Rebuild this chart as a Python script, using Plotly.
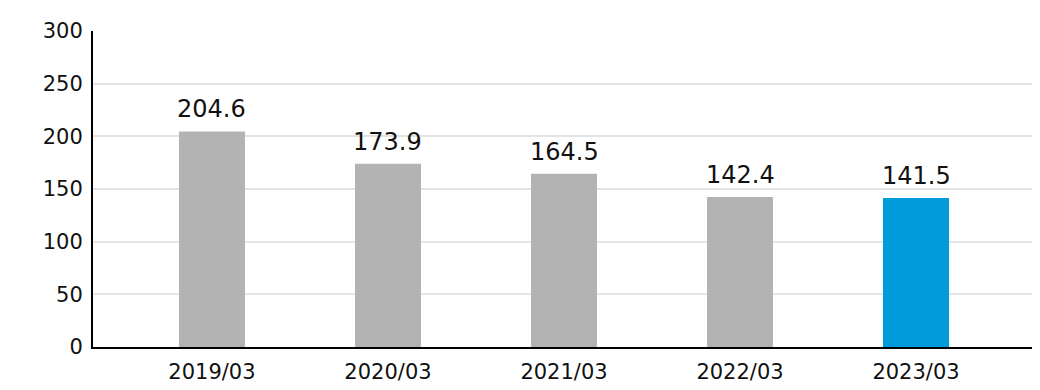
import plotly.graph_objects as go

categories = ["2019/03", "2020/03", "2021/03", "2022/03", "2023/03"]
values = [204.6, 173.9, 164.5, 142.4, 141.5]
colors = ["#b3b3b3", "#b3b3b3", "#b3b3b3", "#b3b3b3", "#009bdb"]
y_ticks = [0, 50, 100, 150, 200, 250, 300]

FONT = "DejaVu Sans"

xs = list(range(len(categories)))
fig = go.Figure(go.Bar(
    x=xs,
    y=values,
    marker=dict(color=colors, line=dict(width=0)),
    width=0.375,
    hoverinfo="x+y",
))

for x, v in zip(xs, values):
    fig.add_annotation(
        x=x, y=v, text=f"{v:.1f}", showarrow=False,
        yanchor="bottom", yshift=6,
        font=dict(size=24, color="#111111", family=FONT),
    )

fig.update_layout(
    width=1032, height=382,
    margin=dict(l=85, r=8, t=23, b=43),
    paper_bgcolor="white", plot_bgcolor="white",
    showlegend=False,
    font=dict(family=FONT, color="#111111"),
    xaxis=dict(
        tickmode="array", tickvals=xs, ticktext=categories,
        range=[-0.676, 4.659],
        showgrid=False, showline=True, linecolor="black", linewidth=2,
        ticks="", tickfont=dict(size=21, family=FONT),
        ticklabelstandoff=5, automargin=False,
        zeroline=False,
    ),
    yaxis=dict(
        range=[0, 300], tickvals=y_ticks,
        showgrid=True, gridcolor="#e3e3e3", gridwidth=1.5,
        showline=True, linecolor="black", linewidth=2,
        ticks="", tickfont=dict(size=21, family=FONT),
        ticklabelstandoff=4, automargin=False,
        zeroline=False,
    ),
)

fig.write_html("out.html")
